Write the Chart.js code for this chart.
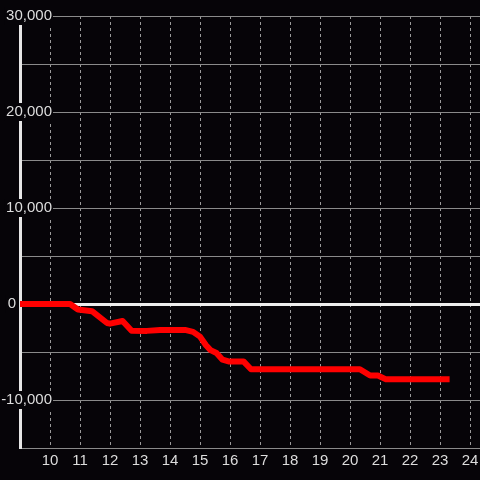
<!DOCTYPE html>
<html>
<head>
<meta charset="utf-8">
<script src="https://cdn.jsdelivr.net/npm/chart.js@4/dist/chart.umd.min.js"></script>
<style>
  html, body { margin: 0; padding: 0; background: #060408; }
  #wrap { width: 480px; height: 480px; }
</style>
</head>
<body>
<div id="wrap"><canvas id="c" width="480" height="480"></canvas></div>
<script>
const xValues = [9, 10.67, 10.93, 11.4, 11.9, 12.0, 12.42, 12.72, 13.23, 13.67, 14.5, 14.77, 15.0, 15.2, 15.35, 15.55, 15.75, 15.95, 16.45, 16.7, 20.33, 20.67, 20.93, 21.2, 23.22];
const yValues = [0, 0, -570, -750, -1980, -2050, -1770, -2790, -2800, -2700, -2700, -2900, -3400, -4300, -4800, -5100, -5800, -5980, -5980, -6800, -6800, -7450, -7450, -7850, -7850];
const xRange = [9, 24.3333];
const yRange = [-15000, 30000];
const yLabelTicks = [-10000, 0, 10000, 20000, 30000];

const points = xValues.map((x, i) => ({ x: x, y: yValues[i] }));

const labelFix = {
  id: 'labelFix',
  beforeDraw(chart) {
    const ys = chart.scales.y;
    const items = ys.getLabelItems();
    items.forEach(it => {
      if (!it.label) { it.options.backdrop = null; return; }
      const right = it.label === '0' ? 16 : 52;
      it.options.textAlign = 'right';
      it.options.translation[0] = right;
      const bd = it.options.backdrop;
      if (bd) {
        const w = bd.width - 3;
        bd.left = -w - 2;
      }
    });
  }
};

new Chart(document.getElementById('c'), {
  type: 'line',
  data: {
    datasets: [{
      data: points,
      borderColor: '#ff0000',
      backgroundColor: '#ff0000',
      borderWidth: 6,
      pointRadius: 0,
      tension: 0,
      borderJoinStyle: 'round',
      borderCapStyle: 'square',
      fill: false
    }]
  },
  options: {
    responsive: false,
    animation: false,
    layout: { padding: { top: 16, left: 0, right: 0, bottom: 0 } },
    plugins: { legend: { display: false }, tooltip: { enabled: false } },
    scales: {
      x: {
        type: 'linear',
        min: xRange[0],
        max: xRange[1],
        afterFit(s) { s.height = 32; s.paddingLeft = 0; s.paddingRight = 0; },
        border: { display: false, dash: [3, 3] },
        grid: { color: '#9a9a9a', drawTicks: false, lineWidth: 1 },
        ticks: {
          stepSize: 1,
          includeBounds: false,
          autoSkip: false,
          maxRotation: 0,
          color: '#dddddd',
          padding: 4,
          font: { family: 'Liberation Sans', size: 15 },
          callback: v => (v === 9 ? '' : String(v))
        }
      },
      y: {
        type: 'linear',
        min: yRange[0],
        max: yRange[1],
        afterFit(s) { s.width = 20; s.paddingTop = 0; s.paddingBottom = 0; },
        border: { display: true, color: '#e6e6e6', width: 3 },
        grid: {
          drawTicks: false,
          color: ctx => (ctx.tick && ctx.tick.value === 0 ? '#eeeeee' : '#8a8a8a'),
          lineWidth: ctx => (ctx.tick && ctx.tick.value === 0 ? 3 : 1)
        },
        ticks: {
          stepSize: 5000,
          mirror: true,
          padding: 0,
          color: '#dddddd',
          font: { family: 'Liberation Sans', size: 15 },
          showLabelBackdrop: true,
          backdropColor: '#060408',
          backdropPadding: { left: 2, right: 1, top: 0, bottom: 0 },
          callback: v => (yLabelTicks.includes(v) ? v.toLocaleString('en-US') : '')
        }
      }
    }
  },
  plugins: [labelFix]
});
</script>
</body>
</html>
